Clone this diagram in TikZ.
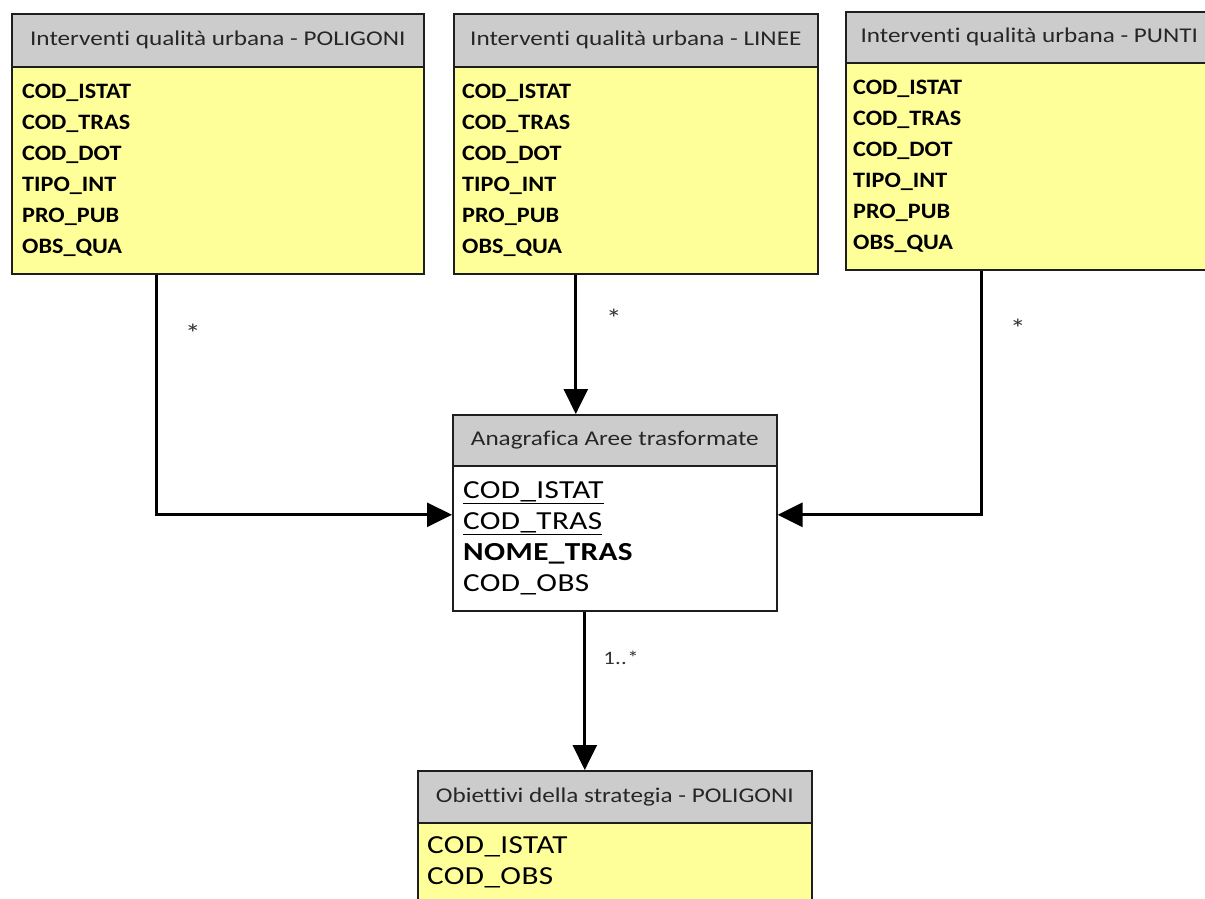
\documentclass[tikz,border=0pt]{standalone}
\usepackage{fontspec}
\usetikzlibrary{arrows.meta}
\newfontfamily\hdfont[FakeStretch=1.2,Ligatures=NoCommon]{Carlito}
\newfontfamily\fldfont[FakeStretch=1.1,Ligatures=NoCommon]{Carlito}
\newfontfamily\wfont[FakeStretch=1.2,Ligatures=NoCommon,LetterSpace=1.5]{Carlito}
\definecolor{hdgray}{HTML}{CCCCCC}
\definecolor{bodyyel}{HTML}{FFFF99}
\definecolor{linec}{HTML}{1E1E1E}
\begin{document}
\begin{tikzpicture}[x=1pt,y=-1pt,
  tbl/.style={draw=linec, line width=1.6pt, inner sep=0pt, anchor=north west},
  head/.style={tbl, fill=hdgray, font=\hdfont\fontsize{21}{21}\selectfont, text=black!85},
  fields/.style={anchor=west, inner sep=0pt, align=left, font=\fldfont\bfseries\fontsize{22}{31}\selectfont},
  wfields/.style={anchor=west, inner sep=0pt, align=left, font=\wfont\fontsize{26}{31}\selectfont},
  conn/.style={draw=black, line width=3pt, -{Triangle[length=25pt,width=24pt]}},
  mult/.style={inner sep=0pt, font=\wfont\fontsize{19}{19}\selectfont, text=black!80},
  star/.style={inner sep=0pt, font=\wfont\fontsize{26}{26}\selectfont, text=black!80}
]
\useasboundingbox (0,0) rectangle (1205,899);
\fill[white] (0,0) rectangle (1205,899);

% POLIGONI
\node[tbl, fill=bodyyel, minimum width=412pt, minimum height=260pt] (pol) at (11,13) {};
\node[head, minimum width=412pt, minimum height=53pt] (polh) at (pol.north west) {Interventi qualità urbana - POLIGONI};
\node[fields, anchor=north west] (polf) at (22,84) {COD\_ISTAT\\COD\_TRAS\\COD\_DOT\\TIPO\_INT\\PRO\_PUB\\OBS\_QUA};

% LINEE
\node[tbl, fill=bodyyel, minimum width=364pt, minimum height=260pt] (lin) at (453,13) {};
\node[head, minimum width=364pt, minimum height=53pt] (linh) at (lin.north west) {Interventi qualità urbana - LINEE};
\node[fields, anchor=north west] (linf) at (462,84) {COD\_ISTAT\\COD\_TRAS\\COD\_DOT\\TIPO\_INT\\PRO\_PUB\\OBS\_QUA};

% PUNTI
\node[tbl, fill=bodyyel, minimum width=367pt, minimum height=258pt] (pun) at (845,11) {};
\node[head, minimum width=367pt, minimum height=51pt] (punh) at (pun.north west) {Interventi qualità urbana - PUNTI};
\node[fields, anchor=north west] (punf) at (853,80) {COD\_ISTAT\\COD\_TRAS\\COD\_DOT\\TIPO\_INT\\PRO\_PUB\\OBS\_QUA};

% Anagrafica
\node[tbl, fill=white, minimum width=324pt, minimum height=196pt] (ana) at (452,414) {};
\node[head, minimum width=324pt, minimum height=51pt] (anah) at (ana.north west) {Anagrafica Aree trasformate};
\node[wfields, anchor=north west] (anaf) at (463,481) {\underline{COD\_ISTAT}\\\underline{COD\_TRAS}\\\textbf{NOME\_TRAS}\\COD\_OBS};

% Obiettivi
\node[tbl, fill=bodyyel, minimum width=394pt, minimum height=140pt] (obi) at (417,770) {};
\node[head, minimum width=394pt, minimum height=52pt] (obih) at (obi.north west) {Obiettivi della strategia - POLIGONI};
\node[wfields, anchor=north west] (obif) at (427,836) {COD\_ISTAT\\COD\_OBS};

% connectors
\coordinate (polout) at ([xshift=145pt]pol.south west);
\coordinate (punout) at ([xshift=136pt]pun.south west);
\coordinate (anain) at ([yshift=-2pt]ana.west);
\coordinate (anain2) at ([yshift=-2pt]ana.east);
\draw[conn] (polout) |- (anain);
\draw[conn] (lin.south -| ana.north) ++(-39pt,0) coordinate (linout) -- (linout |- ana.north);
\draw[conn] (punout) |- (anain2);
\draw[conn] ([xshift=-30pt]ana.south) coordinate (anaout) -- (anaout |- obi.north);

% multiplicities
\node[star] (m1) at (193,333) {*};
\node[star] (m2) at (614,318) {*};
\node[star] (m3) at (1018,328) {*};
\node[mult] (m4) at (621,658) {1..*};
\end{tikzpicture}
\end{document}
